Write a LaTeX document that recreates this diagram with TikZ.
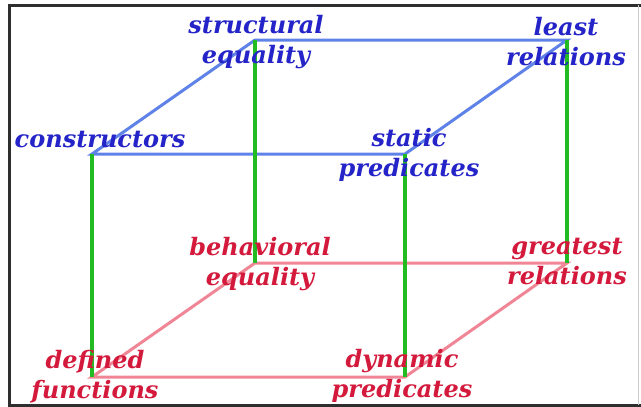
\documentclass[tikz,border=0pt]{standalone}
\usepackage{fontspec}
\setmainfont{DejaVu Serif}
\usepackage{tikz}
\usetikzlibrary{positioning}
\definecolor{statblue}{HTML}{2424C8}
\definecolor{statedge}{HTML}{5F82E8}
\definecolor{dynred}{HTML}{D41A3C}
\definecolor{dynedge}{HTML}{F08595}
\definecolor{levelgreen}{HTML}{22BB22}
\definecolor{framegrey}{HTML}{2E2E2E}
\tikzset{
  lab/.style={font=\fontsize{24}{30}\selectfont\bfseries\itshape, text=#1,
              align=center, inner sep=0pt},
  topedge/.style={draw=statedge, line width=3pt},
  botedge/.style={draw=dynedge, line width=3pt},
  riser/.style={draw=levelgreen, line width=4pt},
}

\begin{document}
\begin{tikzpicture}[x=1pt, y=-1pt]
\useasboundingbox (0,0) rectangle (641,407);
\draw[framegrey, line width=3pt] (641,5) -- (9,5) -- (9,405) -- (641,405);
\draw[gray!40, line width=0.8pt] (638,5) -- (638,405);

% ---------- corners of the cube ------------------------------------------
\coordinate (se) at (255,40);  \coordinate (lr) at (567,40);
\coordinate (co) at (92,154);  \coordinate (sp) at (405,154);
\coordinate (be) at (255,263); \coordinate (gr) at (567,263);
\coordinate (df) at (92,377);  \coordinate (dp) at (405,377);

% static face on top, dynamic face below
\draw[topedge] (co) -- (se) -- (lr) -- (sp) -- cycle;
\draw[botedge] (df) -- (be) -- (gr) -- (dp) -- cycle;
\foreach \a/\b in {co/df,se/be,sp/dp,lr/gr}{
  \draw[riser] (\a) -- (\b);}

% ---------- labels -------------------------------------------------------
\node[lab=statblue] (lse) at (256,42) {structural\\equality};
\node[lab=statblue] (llr) at (566,42) {least\\relations};
\node[lab=statblue, anchor=base] (lco) at (100,147) {constructors};
\node[lab=statblue] (lsp) at (409,155) {static\\predicates};
\node[lab=dynred] (lbe) at (260,264) {behavioral\\equality};
\node[lab=dynred] (lgr) at (567,262) {greatest\\relations};
\node[lab=dynred] (ldf) at (95,377) {defined\\functions};
\node[lab=dynred] (ldp) at (402,376) {dynamic\\predicates};
\end{tikzpicture}
\end{document}
